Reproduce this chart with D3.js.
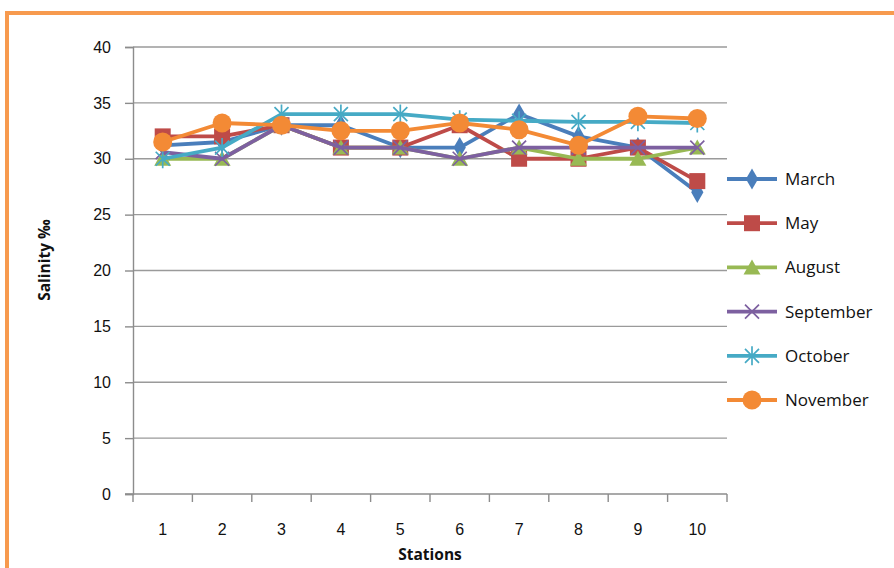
<!DOCTYPE html>
<html>
<head>
<meta charset="utf-8">
<script src="https://cdn.jsdelivr.net/npm/d3@7/dist/d3.min.js"></script>
<style>
  body { margin: 0; background: #fff; }
  svg { display: block; }
</style>
</head>
<body>
<svg id="chart" width="894" height="568"></svg>
<script>
// Salinity per station for each sampling month
const stations = ["1", "2", "3", "4", "5", "6", "7", "8", "9", "10"];
const march     = [31.2, 31.5, 33, 33, 31, 31, 34, 32, 31, 27];
const may       = [32, 32, 33, 31, 31, 33, 30, 30, 31, 28];
const august    = [30, 30, 33, 31, 31, 30, 31, 30, 30, 31];
const september = [30.6, 30, 33, 31, 31, 30, 31, 31, 31, 31];
const october   = [30, 31, 34, 34, 34, 33.5, 33.4, 33.3, 33.3, 33.2];
const november  = [31.5, 33.2, 33, 32.5, 32.5, 33.2, 32.6, 31.2, 33.8, 33.6];
const yTicks = [0, 5, 10, 15, 20, 25, 30, 35, 40];

const series = [
  { name: "March",     values: march,     color: "#4A7EBB", symbol: "diamond" },
  { name: "May",       values: may,       color: "#BE4B48", symbol: "square" },
  { name: "August",    values: august,    color: "#98B954", symbol: "triangle" },
  { name: "September", values: september, color: "#7D60A0", symbol: "cross" },
  { name: "October",   values: october,   color: "#46AAC5", symbol: "star" },
  { name: "November",  values: november,  color: "#F38A35", symbol: "circle" }
];

const svg = d3.select("#chart");
const font = "'Liberation Sans Narrow', 'Liberation Sans', Arial, sans-serif";
const calib = "'Open Sans', 'DejaVu Sans', sans-serif";

// Orange frame around the chart
svg.append("path")
  .attr("d", "M7,568 V13 H894")
  .attr("fill", "none")
  .attr("stroke", "#F79A4E")
  .attr("stroke-width", 4);

const plotLeft = 133, plotRight = 727, plotTop = 47, plotBottom = 494;

const x = d3.scaleBand().domain(stations).range([plotLeft, plotRight]);
const y = d3.scaleLinear().domain([0, 40]).range([plotBottom, plotTop]);

// Horizontal gridlines
svg.append("g")
  .selectAll("line")
  .data(yTicks.filter(d => d > 0))
  .join("line")
  .attr("x1", plotLeft).attr("x2", plotRight)
  .attr("y1", d => y(d)).attr("y2", d => y(d))
  .attr("stroke", "#9a9a9a").attr("stroke-width", 1.4);

// Y axis
const yAxis = svg.append("g")
  .attr("transform", `translate(${plotLeft},0)`)
  .call(d3.axisLeft(y).tickValues(yTicks).tickSize(8).tickPadding(14));
yAxis.select(".domain").attr("stroke", "#8c8c8c").attr("stroke-width", 1.4);
yAxis.selectAll(".tick line").attr("stroke", "#8c8c8c").attr("stroke-width", 1.4);
yAxis.selectAll("text")
  .attr("font-family", font).attr("font-size", 16).attr("fill", "#111");

// X axis with ticks at category boundaries
const xAxis = svg.append("g")
  .attr("transform", `translate(0,${plotBottom})`)
  .call(d3.axisBottom(x).tickSize(0).tickPadding(30));
xAxis.select(".domain").attr("stroke", "#8c8c8c").attr("stroke-width", 1.4)
  .attr("d", `M${plotLeft - 8},0H${plotRight}`);
xAxis.selectAll("text")
  .attr("font-family", font).attr("font-size", 16).attr("fill", "#111");
const bounds = stations.map(s => x(s)).concat([plotRight]);
svg.append("g").selectAll("line")
  .data(bounds).join("line")
  .attr("x1", d => d).attr("x2", d => d)
  .attr("y1", plotBottom).attr("y2", plotBottom + 8)
  .attr("stroke", "#8c8c8c").attr("stroke-width", 1.4);

// Axis titles
svg.append("text")
  .attr("x", (plotLeft + plotRight) / 2).attr("y", 560)
  .attr("text-anchor", "middle")
  .attr("font-family", calib).attr("font-size", 15.5).attr("font-weight", "bold")
  .attr("fill", "#111")
  .text("Stations");
svg.append("text")
  .attr("transform", `translate(50,260) rotate(-90)`)
  .attr("text-anchor", "middle")
  .attr("font-family", calib).attr("font-size", 15.5).attr("font-weight", "bold")
  .attr("fill", "#111")
  .text("Salinity ‰");

const cx = s => x(s) + x.bandwidth() / 2;

function drawMarker(g, sym, color) {
  if (sym === "diamond") {
    g.append("path").attr("d", d3.symbol(d3.symbolDiamond, 130)()).attr("fill", color);
  } else if (sym === "square") {
    g.append("rect").attr("x", -8).attr("y", -8).attr("width", 16).attr("height", 16).attr("fill", color);
  } else if (sym === "triangle") {
    g.append("path").attr("d", "M0,-8L8.5,7L-8.5,7Z").attr("fill", color);
  } else if (sym === "cross") {
    g.append("path").attr("d", "M-7,-7L7,7M-7,7L7,-7")
      .attr("stroke", color).attr("stroke-width", 1.7).attr("fill", "none");
  } else if (sym === "star") {
    g.append("path").attr("d", "M-7,-7L7,7M-7,7L7,-7M0,-9.5V9.5")
      .attr("stroke", color).attr("stroke-width", 1.7).attr("fill", "none");
  } else if (sym === "circle") {
    g.append("circle").attr("r", 9.5).attr("fill", color);
  }
}

const line = d3.line().x((d, i) => cx(stations[i])).y(d => y(d));

series.forEach(s => {
  const g = svg.append("g");
  g.append("path")
    .datum(s.values)
    .attr("d", line)
    .attr("fill", "none")
    .attr("stroke", s.color)
    .attr("stroke-width", 3.8)
    .attr("stroke-linejoin", "round");
  s.values.forEach((v, i) => {
    const m = g.append("g").attr("transform", `translate(${cx(stations[i])},${y(v)})`);
    drawMarker(m, s.symbol, s.color);
  });
});

// Legend
const legend = svg.append("g");
series.forEach((s, i) => {
  const ly = 179 + i * 44.2;
  const item = legend.append("g").attr("transform", `translate(0,${ly})`);
  item.append("line")
    .attr("x1", 727).attr("x2", 777).attr("y1", 0).attr("y2", 0)
    .attr("stroke", s.color).attr("stroke-width", 3.8);
  const m = item.append("g").attr("transform", "translate(752,0)");
  drawMarker(m, s.symbol, s.color);
  item.append("text")
    .attr("x", 785).attr("y", 6)
    .attr("font-family", calib).attr("font-size", 17)
    .attr("fill", "#111")
    .text(s.name);
});
</script>
</body>
</html>
